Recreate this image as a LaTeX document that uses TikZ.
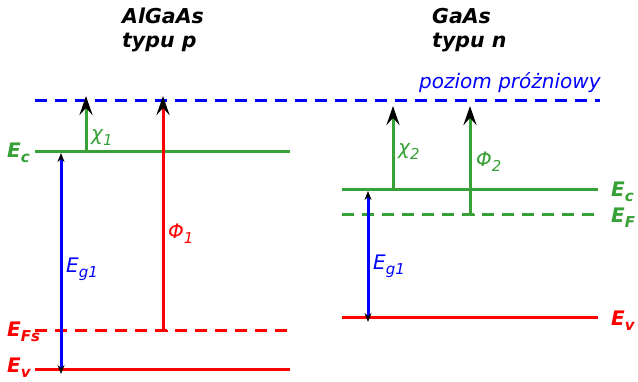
\documentclass[tikz,border=0pt]{standalone}
\usepackage{fontspec}
\setmainfont{DejaVu Sans}
\usetikzlibrary{arrows.meta}
\definecolor{gr}{RGB}{55,160,55}
\definecolor{rd}{RGB}{255,0,0}
\definecolor{bl}{RGB}{0,0,255}
\newcommand{\lowsub}[1]{\raisebox{-0.45ex}{\fontsize{15}{15}\selectfont #1}}
\tikzset{
  lvl/.style={line width=3pt},
  dsh/.style={line width=3pt, dash pattern=on 12pt off 8pt},
  bigtip/.style={-{Stealth[black,length=19pt,width=13pt,inset=7pt]}},
  smalltip/.style={{Stealth[black,length=9pt,width=7pt,inset=3pt]}-{Stealth[black,length=9pt,width=7pt,inset=3pt]}},
  lab/.style={inner sep=0pt, anchor=base west, font=\fontsize{20}{20}\selectfont\bfseries\itshape},
  txt/.style={inner sep=0pt, anchor=base west, font=\fontsize{20}{20}\selectfont\itshape},
  ttl/.style={inner sep=0pt, anchor=base west, font=\fontsize{20.5}{24}\selectfont\bfseries\itshape}
}
\begin{document}
\begin{tikzpicture}[x=1pt,y=-1pt]
\useasboundingbox (0,0) rectangle (638,382);
% titles
\node[ttl] (t1a) at (122,24) {AlGaAs};
\node[ttl] (t1b) at (122,48) {typu p};
\node[ttl] (t2a) at (432,24) {GaAs};
\node[ttl] (t2b) at (432,48) {typu n};
\node[txt, text=bl] (vac) at (419,89) {poziom próżniowy};
% level end points
\coordinate (vA) at (35,101); \coordinate (vB) at (600,101);
\coordinate (lcA) at (35,152); \coordinate (lcB) at (290,152);
\coordinate (lfA) at (35,331); \coordinate (lfB) at (290,331);
\coordinate (lvA) at (35,370); \coordinate (lvB) at (290,370);
\coordinate (rcA) at (342,190); \coordinate (rcB) at (598,190);
\coordinate (rfA) at (342,215); \coordinate (rfB) at (598,215);
\coordinate (rvA) at (342,318); \coordinate (rvB) at (598,318);
% levels
\draw[dsh, bl] (vA) -- (vB);
\draw[lvl, gr] (lcA) -- (lcB);
\draw[dsh, rd] (lfA) -- (lfB);
\draw[lvl, rd] (lvA) -- (lvB);
\draw[lvl, gr] (rcA) -- (rcB);
\draw[dsh, gr] (rfA) -- (rfB);
\draw[lvl, rd] (rvA) -- (rvB);
% arrow points
\coordinate (c1a) at (86,152); \coordinate (c1b) at (86,96);
\coordinate (p1a) at (163,331); \coordinate (p1b) at (163,96);
\coordinate (g1a) at (61,153); \coordinate (g1b) at (61,374);
\coordinate (c2a) at (393,190); \coordinate (c2b) at (393,106);
\coordinate (p2a) at (470,215); \coordinate (p2b) at (470,106);
\coordinate (g2a) at (368,191); \coordinate (g2b) at (368,322);
\draw[lvl, gr, bigtip] (c1a) -- (c1b);
\draw[lvl, rd, bigtip] (p1a) -- (p1b);
\draw[lvl, gr, bigtip] (c2a) -- (c2b);
\draw[lvl, gr, bigtip] (p2a) -- (p2b);
\draw[line width=3pt, bl, smalltip] (g1a) -- (g1b);
\draw[line width=3pt, bl, smalltip] (g2a) -- (g2b);
\draw[line width=2pt, rd] (158,331) -- (168,331);
\draw[line width=2pt, gr] (465,215) -- (475,215);
% arrow labels
\node[txt, text=gr] (lx1) at (91,141) {χ\lowsub{1}};
\node[txt, text=rd] (lp1) at (168,239) {Φ\lowsub{1}};
\node[txt, text=bl] (le1) at (66,273) {E\lowsub{g1}};
\node[txt, text=gr] (lx2) at (398,155) {χ\lowsub{2}};
\node[txt, text=gr] (lp2) at (476,167) {Φ\lowsub{2}};
\node[txt, text=bl] (le2) at (373,270) {E\lowsub{g1}};
% level labels
\node[lab, text=gr] (Ec1) at (7,158) {E\lowsub{c}};
\node[lab, text=rd] (Ef1) at (7,337) {E\lowsub{Fs}};
\node[lab, text=rd] (Ev1) at (7,373) {E\lowsub{v}};
\node[lab, text=gr] (Ec2) at (611,197) {E\lowsub{c}};
\node[lab, text=gr] (Ef2) at (611,223) {E\lowsub{F}};
\node[lab, text=rd] (Ev2) at (611,326) {E\lowsub{v}};
\end{tikzpicture}
\end{document}
